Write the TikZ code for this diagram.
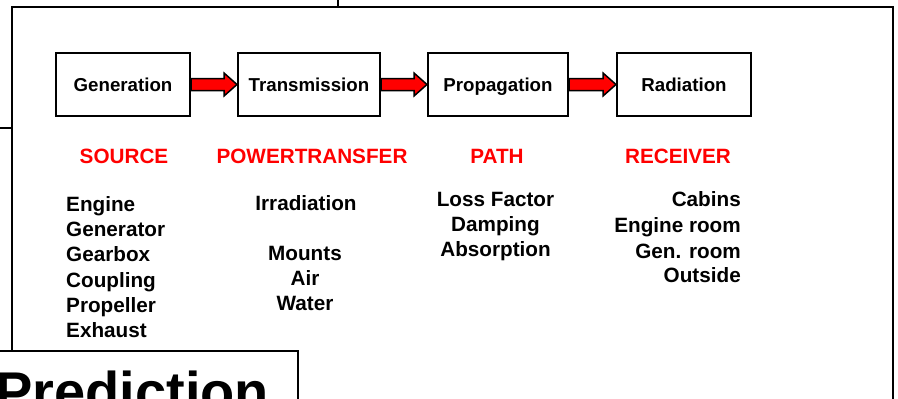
\documentclass[tikz,border=0pt]{standalone}
\usepackage{fontspec}
\setmainfont{Liberation Sans}
\usetikzlibrary{calc}
\begin{document}
\begin{tikzpicture}[x=1pt,y=-1pt,
  frame/.style={draw=black,line width=2pt,fill=white},
  stagebox/.style={draw=black,line width=2pt,fill=white,minimum width=134pt,minimum height=63pt,inner sep=0pt,text height=14pt,text depth=0pt,font=\fontsize{18.7}{20}\selectfont\bfseries},
  head/.style={text=red,inner sep=0pt,font=\fontsize{20.7}{22}\selectfont\bfseries},
  item/.style={inner sep=0pt,font=\fontsize{20.7}{22}\selectfont\bfseries},
  flow/.style={draw=black,line width=1.5pt,fill=red,line join=miter}]
\useasboundingbox (0,0) rectangle (898,399);
\clip (0,0) rectangle (898,399);
% background panels
\draw[frame] (-10,-10) rectangle (338,128);
\draw[frame] (12,7) rectangle (893,430);
% stage boxes
\node[stagebox] (gen) at (123,84.5) {Generation};
\node[stagebox,minimum width=142pt] (tra) at (309,84.5) {Transmission};
\node[stagebox,minimum width=140pt] (pro) at (498,84.5) {Propagation};
\node[stagebox] (rad) at (684,84.5) {Radiation};
% arrows
\foreach \a/\b in {gen/tra,tra/pro,pro/rad}{
  \draw[flow] let \p1=(\a.east), \p2=(\b.west) in
    (\x1,{\y1-6pt}) -- ({\x2-13pt},{\y1-6pt}) -- ({\x2-13pt},{\y1-11.5pt}) -- (\x2,\y1)
    -- ({\x2-13pt},{\y1+11.5pt}) -- ({\x2-13pt},{\y1+6pt}) -- (\x1,{\y1+6pt}) -- cycle;
}
% headings
\node[head,anchor=base] (hs) at (124,163) {SOURCE};
\node[head,anchor=base] (hp) at (312,163) {POWERTRANSFER};
\node[head,anchor=base] (ha) at (497,163) {PATH};
\node[head,anchor=base] (hr) at (678,163) {RECEIVER};
% source list
\node[item,anchor=base west] (s1) at (66,211) {Engine};
\node[item,anchor=base west] (s2) at (66,236) {Generator};
\node[item,anchor=base west] (s3) at (66,261.5) {Gearbox};
\node[item,anchor=base west] (s4) at (66,287) {Coupling};
\node[item,anchor=base west] (s5) at (66,312.5) {Propeller};
\node[item,anchor=base west] (s6) at (66,337.5) {Exhaust};
% power transfer list
\node[item,anchor=base] (t1) at (306,210.5) {Irradiation};
\node[item,anchor=base] (t2) at (305,260.5) {Mounts};
\node[item,anchor=base] (t3) at (305,285.5) {Air};
\node[item,anchor=base] (t4) at (305,310.5) {Water};
% path list
\node[item,anchor=base] (p1) at (495.5,206.5) {Loss Factor};
\node[item,anchor=base] (p2) at (495.5,231.5) {Damping};
\node[item,anchor=base] (p3) at (495.5,256.5) {Absorption};
% receiver list
\node[item,anchor=base east] (r1) at (741,206.5) {Cabins};
\node[item,anchor=base east] (r2) at (741,232.5) {Engine room};
\node[item,anchor=base east] (r3) at (741,258) {Gen. room};
\node[item,anchor=base east] (r4) at (741,282) {Outside};
% prediction panel
\draw[frame] (-10,351) rectangle (298,430);
\node[inner sep=0pt,anchor=base west,font=\fontsize{56}{60}\selectfont\bfseries] (pred) at (-5,411) {Prediction};
\end{tikzpicture}
\end{document}
